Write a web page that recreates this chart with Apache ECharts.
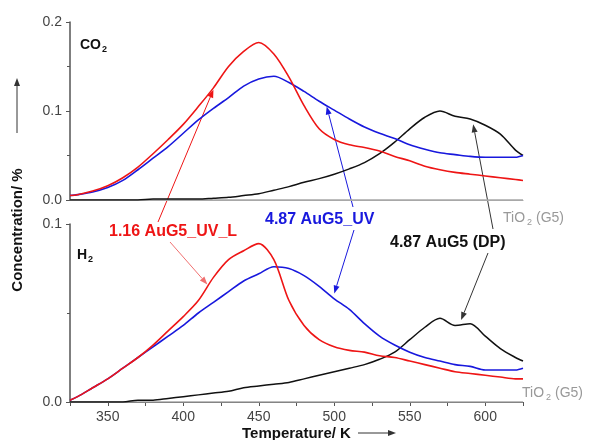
<!DOCTYPE html>
<html>
<head>
<meta charset="utf-8">
<script src="https://cdn.jsdelivr.net/npm/echarts@6/dist/echarts.min.js"></script>
<style>
  html, body { margin: 0; padding: 0; background: #fff; }
  #chart { width: 595px; height: 440px; }
</style>
</head>
<body>
<div id="chart"></div>
<script>
// temperature / K
const temps = [325, 330, 340, 350, 360, 370, 380, 390, 400, 410, 420, 430, 440, 450, 460, 470,
  480, 490, 500, 510, 520, 530, 540, 550, 560, 570, 580, 590, 600, 610, 620, 625];

// CO2 concentration / %
const co2_UV_L = [0.005, 0.006, 0.010, 0.016, 0.025, 0.037, 0.052, 0.068, 0.085, 0.105, 0.126, 0.150, 0.167, 0.177, 0.164, 0.138,
  0.106, 0.080, 0.068, 0.062, 0.059, 0.055, 0.049, 0.044, 0.038, 0.034, 0.031, 0.029, 0.027, 0.025, 0.023, 0.022];
const co2_UV = [0.005, 0.006, 0.009, 0.014, 0.022, 0.034, 0.047, 0.060, 0.075, 0.090, 0.103, 0.115, 0.128, 0.136, 0.139, 0.132,
  0.122, 0.111, 0.101, 0.091, 0.082, 0.075, 0.069, 0.062, 0.057, 0.053, 0.051, 0.049, 0.048, 0.048, 0.048, 0.050];
const co2_DP = [0.000, 0.000, 0.000, 0.000, 0.000, 0.000, 0.001, 0.001, 0.001, 0.001, 0.002, 0.003, 0.005, 0.007, 0.011, 0.015,
  0.020, 0.024, 0.029, 0.035, 0.042, 0.052, 0.065, 0.080, 0.093, 0.100, 0.094, 0.091, 0.084, 0.074, 0.056, 0.050];
const co2_TiO2 = [0, 0, 0, 0, 0, 0, 0, 0, 0, 0, 0, 0, 0, 0, 0, 0,
  0, 0, 0, 0, 0, 0, 0, 0, 0, 0, 0, 0, 0, 0, 0, 0];

// H2 concentration / %
const h2_UV_L = [0.001, 0.003, 0.008, 0.013, 0.019, 0.025, 0.032, 0.040, 0.048, 0.057, 0.070, 0.080, 0.085, 0.089, 0.080, 0.057,
  0.043, 0.035, 0.031, 0.029, 0.028, 0.026, 0.025, 0.023, 0.021, 0.019, 0.017, 0.016, 0.015, 0.014, 0.013, 0.013];
const h2_UV = [0.001, 0.003, 0.008, 0.013, 0.019, 0.025, 0.031, 0.037, 0.043, 0.050, 0.056, 0.062, 0.068, 0.072, 0.076, 0.075,
  0.071, 0.065, 0.058, 0.052, 0.044, 0.037, 0.032, 0.028, 0.025, 0.023, 0.021, 0.020, 0.018, 0.018, 0.018, 0.019];
const h2_DP = [0.000, 0.000, 0.000, 0.000, 0.000, 0.001, 0.001, 0.002, 0.003, 0.004, 0.005, 0.006, 0.008, 0.009, 0.010, 0.011,
  0.013, 0.015, 0.017, 0.019, 0.021, 0.024, 0.028, 0.035, 0.042, 0.047, 0.043, 0.044, 0.037, 0.030, 0.025, 0.023];
const h2_TiO2 = [0, 0, 0, 0, 0, 0, 0, 0, 0, 0, 0, 0, 0, 0, 0, 0,
  0, 0, 0, 0, 0, 0, 0, 0, 0, 0, 0, 0, 0, 0, 0, 0];

const RED = '#ee1515', BLUE = '#1818dd', BLACK = '#111111', GREY = '#a8a8a8', AXIS = '#555555';
const FONT = 'Liberation Sans, Arial, sans-serif';

const pairs = arr => temps.map((t, i) => [t, arr[i]]);

function line(name, arr, idx, color, w) {
  return {
    name: name, type: 'line', xAxisIndex: idx, yAxisIndex: idx,
    data: pairs(arr), showSymbol: false, smooth: 0.3,
    lineStyle: { color: color, width: w }, z: color === GREY ? 1 : 3
  };
}

function xAxisCfg(idx, showLabels) {
  return {
    type: 'value', gridIndex: idx, min: 325, max: 625, interval: 25,
    axisLine: { show: true, lineStyle: { color: showLabels ? AXIS : GREY, width: 1.2 } },
    axisTick: { show: showLabels, length: 4, lineStyle: { color: AXIS } },
    axisLabel: {
      show: showLabels, color: '#444', fontSize: 14, fontFamily: FONT, margin: 8,
      formatter: v => (v % 50 === 0 ? String(v) : '')
    },
    splitLine: { show: false }
  };
}

function yAxisCfg(idx, max) {
  return {
    type: 'value', gridIndex: idx, min: 0, max: max, interval: 0.1,
    axisLine: { show: true, lineStyle: { color: AXIS, width: 1.5 } },
    axisTick: { show: true, length: 4, lineStyle: { color: AXIS } },
    minorTick: { show: true, splitNumber: 2, length: 3, lineStyle: { color: AXIS } },
    axisLabel: { color: '#444', fontSize: 14, fontFamily: FONT, margin: 8, formatter: v => v.toFixed(1) },
    splitLine: { show: false }
  };
}

const chart = echarts.init(document.getElementById('chart'));
chart.setOption({
  animation: false,
  grid: [
    { left: 70, top: 22, width: 453, height: 178 },
    { left: 70, top: 224, width: 453, height: 178 }
  ],
  xAxis: [xAxisCfg(0, false), xAxisCfg(1, true)],
  yAxis: [yAxisCfg(0, 0.2), yAxisCfg(1, 0.1)],
  series: [
    line('TiO2 (G5)', co2_TiO2, 0, GREY, 1.5),
    line('4.87 AuG5 (DP)', co2_DP, 0, BLACK, 1.5),
    line('4.87 AuG5_UV', co2_UV, 0, BLUE, 1.6),
    line('1.16 AuG5_UV_L', co2_UV_L, 0, RED, 1.6),
    line('TiO2 (G5)', h2_TiO2, 1, GREY, 1.5),
    line('4.87 AuG5 (DP)', h2_DP, 1, BLACK, 1.5),
    line('4.87 AuG5_UV', h2_UV, 1, BLUE, 1.6),
    line('1.16 AuG5_UV_L', h2_UV_L, 1, RED, 1.6)
  ]
});

// annotations
const px = (idx, pt) => chart.convertToPixel({ xAxisIndex: idx, yAxisIndex: idx }, pt);

function arrow(x1, y1, x2, y2, color, w) {
  const a = Math.atan2(y2 - y1, x2 - x1), L = 8, W = 3;
  const bx = x2 - L * Math.cos(a), by = y2 - L * Math.sin(a);
  const nx = -Math.sin(a) * W, ny = Math.cos(a) * W;
  return [
    { type: 'line', shape: { x1: x1, y1: y1, x2: bx, y2: by }, style: { stroke: color, lineWidth: w } },
    { type: 'polygon', shape: { points: [[x2, y2], [bx + nx, by + ny], [bx - nx, by - ny]] }, style: { fill: color } }
  ];
}
function arrowTo(x1, y1, tip, color, w) { return arrow(x1, y1, tip[0], tip[1], color, w); }

function text(str, x, y, size, color, bold, align) {
  return {
    type: 'text', x: x, y: y, z: 10,
    style: {
      text: str, fill: color, fontSize: size, fontFamily: FONT,
      fontWeight: bold ? 'bold' : 'normal', align: align || 'left', verticalAlign: 'middle'
    }
  };
}

const g = [].concat(
  arrowTo(158, 222, px(0, [420, 0.124]), RED, 1),
  arrowTo(170, 242, px(1, [416, 0.066]), '#f07070', 1),
  arrowTo(353, 207, px(0, [495, 0.105]), BLUE, 1),
  arrowTo(354, 230, px(1, [500, 0.061]), BLUE, 1),
  arrowTo(493, 229, px(0, [592, 0.085]), '#333', 1),
  arrowTo(488, 253, px(1, [584, 0.046]), '#333', 1),
  arrow(17, 133, 17, 78, '#333', 1),
  arrow(358, 433, 396, 433, '#333', 1),
  [
    text('CO', 80, 45, 14, BLACK, true),
    text('2', 102, 50, 9, BLACK, true),
    text('H', 77, 255, 14, BLACK, true),
    text('2', 88, 260, 9, BLACK, true),
    text('1.16 AuG5_UV_L', 109, 232, 16, RED, true),
    text('4.87 AuG5_UV', 265, 220, 16, BLUE, true),
    text('4.87 AuG5 (DP)', 390, 243, 16, BLACK, true),
    text('TiO', 503, 218, 14, '#999', false),
    text('2', 527, 223, 9, '#999', false),
    text('(G5)', 536, 218, 14, '#999', false),
    text('TiO', 522, 393, 14, '#999', false),
    text('2', 546, 398, 9, '#999', false),
    text('(G5)', 555, 393, 14, '#999', false),
    text('Temperature/ K', 242, 434, 15, BLACK, true),
    {
      type: 'text', x: 18, y: 230, rotation: Math.PI / 2, z: 10,
      style: { text: 'Concentration/ %', fill: BLACK, fontSize: 15, fontFamily: FONT, fontWeight: 'bold', align: 'center', verticalAlign: 'middle' }
    }
  ]
);
chart.setOption({ graphic: g });
</script>
</body>
</html>
